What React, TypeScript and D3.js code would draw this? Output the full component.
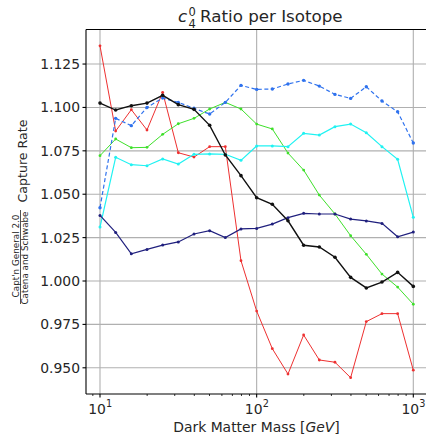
import React from "react";
import * as d3 from "d3";

const masses = [10, 12.59, 15.85, 19.95, 25.12, 31.62, 39.81, 50.12, 63.1, 79.43, 100, 125.9, 158.5, 199.5, 251.2, 316.2, 398.1, 501.2, 631, 794.3, 1000];

const redVals = [1.1355, 1.0864, 1.0987, 1.087, 1.1087, 1.0739, 1.0714, 1.0774, 1.0774, 1.0117, 0.9827, 0.961, 0.9464, 0.9689, 0.9545, 0.9532, 0.9443, 0.9766, 0.9812, 0.9812, 0.9486];
const blackVals = [1.1025, 1.0985, 1.101, 1.1025, 1.107, 1.1016, 1.0989, 1.0897, 1.0726, 1.0607, 1.048, 1.0442, 1.0347, 1.0206, 1.0196, 1.0137, 1.0021, 0.996, 0.9994, 1.005, 0.9969];
const blueVals = [1.0422, 1.0937, 1.0895, 1.1, 1.1054, 1.1029, 1.0995, 1.0962, 1.1029, 1.1127, 1.1104, 1.1106, 1.1135, 1.1156, 1.1123, 1.1075, 1.1052, 1.1119, 1.1037, 1.0975, 1.0795];
const greenVals = [1.0722, 1.0818, 1.0768, 1.077, 1.0845, 1.0906, 1.0937, 1.0991, 1.1029, 1.0991, 1.0904, 1.0876, 1.0737, 1.0639, 1.0495, 1.0386, 1.0261, 1.0154, 1.004, 0.9965, 0.9866];
const cyanVals = [1.0311, 1.0713, 1.067, 1.0664, 1.0703, 1.0674, 1.073, 1.0732, 1.073, 1.0695, 1.0778, 1.0778, 1.0774, 1.0851, 1.0841, 1.0889, 1.0904, 1.0854, 1.0774, 1.0701, 1.0367];
const navyVals = [1.0378, 1.028, 1.0157, 1.0182, 1.0207, 1.0225, 1.0271, 1.029, 1.025, 1.03, 1.0303, 1.0328, 1.0365, 1.039, 1.0386, 1.0386, 1.0357, 1.0346, 1.0332, 1.0255, 1.0282];

const yTicks = [0.95, 0.975, 1.0, 1.025, 1.05, 1.075, 1.1, 1.125];
const xMajor = [10, 100, 1000];
const xExponents = ["1", "2", "3"];

const series = [
  { name: "red", values: redVals, color: "#ee3030", width: 1, dash: null, r: 1.4 },
  { name: "green", values: greenVals, color: "#3ee02a", width: 1, dash: null, r: 1.4 },
  { name: "cyan", values: cyanVals, color: "#20f2f2", width: 1.2, dash: null, r: 1.5 },
  { name: "navy", values: navyVals, color: "#20207e", width: 1.2, dash: null, r: 1.5 },
  { name: "blue", values: blueVals, color: "#2f72ee", width: 1.2, dash: "4,2.5", r: 1.7 },
  { name: "black", values: blackVals, color: "#111111", width: 1.4, dash: null, r: 1.8 },
];

const FONT = "DejaVu Sans, sans-serif";

export default function App() {
  const left = 86, right = 427.3, top = 29.5, bottom = 394;
  const x = d3.scaleLog().domain([Math.pow(10, 1 - 14 / 156.67), Math.pow(10, 3 + 14 / 156.67)]).range([left, right]);
  const y = d3.scaleLinear().domain([0.9349, 1.1449]).range([bottom, top]);

  const minor: number[] = [];
  [1, 10, 100].forEach((dec) => {
    for (let k = 2; k <= 9; k++) {
      const v = k * dec;
      if (x(v) >= left && x(v) <= 426) minor.push(v);
    }
  });

  const line = (vals: number[]) =>
    d3.line<number>().x((_, i) => x(masses[i])).y((d) => y(d))(vals) || "";

  return (
    <svg width={426} height={439} style={{ position: "fixed", left: 0, top: 0, background: "#fff" }} fontFamily={FONT}>
      <rect x={0} y={0} width={426} height={439} fill="#fff" />
      <defs>
        <clipPath id="plot">
          <rect x={left} y={top} width={right - left} height={bottom - top} />
        </clipPath>
      </defs>
      {yTicks.map((t) => (
        <line key={"gy" + t} x1={left} x2={426} y1={y(t)} y2={y(t)} stroke="#b0b0b0" strokeWidth={1.1} />
      ))}
      {xMajor.map((t) => (
        <line key={"gx" + t} x1={x(t)} x2={x(t)} y1={top} y2={bottom} stroke="#b0b0b0" strokeWidth={1.1} />
      ))}
      <g clipPath="url(#plot)">
        {series.map((s) => (
          <g key={s.name}>
            <path d={line(s.values)} fill="none" stroke={s.color} strokeWidth={s.width} strokeDasharray={s.dash || undefined} />
            {s.values.map((v, i) => (
              <circle key={i} cx={x(masses[i])} cy={y(v)} r={s.r} fill={s.color} />
            ))}
          </g>
        ))}
      </g>
      <line x1={left} x2={left} y1={top} y2={bottom} stroke="#000" strokeWidth={1.1} />
      <line x1={left} x2={426} y1={bottom} y2={bottom} stroke="#000" strokeWidth={1.1} />
      <line x1={left} x2={426} y1={top} y2={top} stroke="#000" strokeWidth={1.1} />
      {yTicks.map((t) => (
        <g key={"yt" + t}>
          <line x1={left - 3.5} x2={left} y1={y(t)} y2={y(t)} stroke="#000" strokeWidth={1.1} />
          <text x={80} y={y(t) + 5} fontSize={13.9} textAnchor="end" fill="#262626">
            {t.toFixed(3)}
          </text>
        </g>
      ))}
      {xMajor.map((t, i) => (
        <g key={"xt" + t}>
          <line x1={x(t)} x2={x(t)} y1={bottom} y2={bottom + 3.5} stroke="#000" strokeWidth={1.1} />
          <text x={x(t) - 3} y={413.5} fontSize={13.9} textAnchor="middle" fill="#262626">
            10
          </text>
          <text x={x(t) + 6} y={407} fontSize={9.7} textAnchor="start" fill="#262626">
            {xExponents[i]}
          </text>
        </g>
      ))}
      {minor.map((t) => (
        <line key={"mt" + t} x1={x(t)} x2={x(t)} y1={bottom} y2={bottom + 2} stroke="#000" strokeWidth={0.8} />
      ))}
      <text x={256.5} y={432} fontSize={13.9} textAnchor="middle" fill="#262626">
        Dark Matter Mass [<tspan fontStyle="italic">GeV</tspan>]
      </text>
      <text x={178} y={22} fontSize={16.7} fontStyle="italic" fill="#262626">c</text>
      <text x={188.5} y={15.5} fontSize={11.5} fill="#262626">0</text>
      <text x={188.5} y={28} fontSize={11.5} fill="#262626">4</text>
      <text x={200} y={22} fontSize={16.7} fill="#262626">Ratio per Isotope</text>
      <text transform="translate(27,161) rotate(-90)" fontSize={12.6} textAnchor="middle" fill="#262626">
        Capture Rate
      </text>
      <text transform="translate(18.5,256) rotate(-90)" fontSize={8.8} textAnchor="middle" fill="#262626">
        Capt'n General 2.0
      </text>
      <line x1={20.5} x2={20.5} y1={210} y2={304} stroke="#262626" strokeWidth={0.8} />
      <text transform="translate(27.8,258) rotate(-90)" fontSize={8.8} textAnchor="middle" fill="#262626">
        Catena and Schwabe
      </text>
    </svg>
  );
}
